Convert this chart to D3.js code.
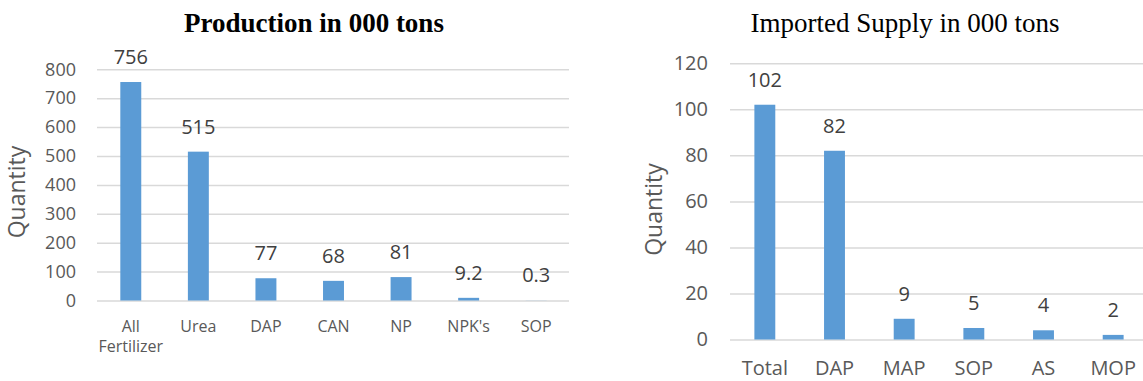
<!DOCTYPE html>
<html>
<head>
<meta charset="utf-8">
<script src="https://cdn.jsdelivr.net/npm/d3@7"></script>
<style>
  html, body { margin: 0; padding: 0; background: #fff; }
  svg { display: block; }
</style>
</head>
<body>
<svg id="chart" width="1143" height="381"></svg>
<script>
// ---- Data ----
const prodCategories = ["All Fertilizer", "Urea", "DAP", "CAN", "NP", "NPK's", "SOP"];
const prodValues = [756, 515, 77, 68, 81, 9.2, 0.3];
const prodTicks = [0, 100, 200, 300, 400, 500, 600, 700, 800];
const prodTitle = "Production in 000 tons";

const impCategories = ["Total", "DAP", "MAP", "SOP", "AS", "MOP"];
const impValues = [102, 82, 9, 5, 4, 2];
const impTicks = [0, 20, 40, 60, 80, 100, 120];
const impTitle = "Imported Supply in 000 tons";

const yAxisTitle = "Quantity";

// ---- Drawing ----
const svg = d3.select("#chart");
const BAR = "#5b9bd5";
const GRID = "#d9d9d9";
const SANS = "'Open Sans', 'Noto Sans', sans-serif";
const SERIF = "'Liberation Serif', 'DejaVu Serif', serif";

function wrap(textSel, width, lineHeight) {
  textSel.each(function () {
    const t = d3.select(this);
    const words = t.text().split(/\s+/);
    const y = t.attr("y"), dy = parseFloat(t.attr("dy")) || 0;
    t.text(null);
    let line = [], lineNo = 0;
    let tspan = t.append("tspan").attr("x", 0).attr("y", y).attr("dy", dy + "em");
    words.forEach(w => {
      line.push(w);
      tspan.text(line.join(" "));
      if (tspan.node().getComputedTextLength() > width && line.length > 1) {
        line.pop();
        tspan.text(line.join(" "));
        line = [w];
        lineNo++;
        tspan = t.append("tspan").attr("x", 0).attr("y", y)
          .attr("dy", (dy + lineNo * lineHeight) + "em").text(w);
      }
    });
  });
}

function drawChart(cfg) {
  const g = svg.append("g");
  const x = d3.scaleBand().domain(cfg.categories).range(cfg.xRange)
    .paddingInner(cfg.pad).paddingOuter(cfg.pad / 2);
  const y = d3.scaleLinear().domain([0, d3.max(cfg.ticks)]).range(cfg.yRange);

  // gridlines + tick labels
  const yAxis = d3.axisLeft(y).tickValues(cfg.ticks)
    .tickSize(-(cfg.gridEnd - cfg.xRange[0])).tickPadding(cfg.tickPad);
  const ya = g.append("g").attr("transform", `translate(${cfg.xRange[0]},0)`).call(yAxis);
  ya.select(".domain").remove();
  ya.selectAll(".tick line").attr("stroke", GRID).attr("stroke-width", 1.5);
  ya.selectAll(".tick text").attr("fill", "#595959")
    .style("font-family", SANS).style("font-size", cfg.tickFont + "px");

  // bars
  g.append("g").selectAll("rect").data(cfg.values).join("rect")
    .attr("x", (d, i) => x(cfg.categories[i]))
    .attr("width", x.bandwidth())
    .attr("y", d => y(d))
    .attr("height", d => y(0) - y(d))
    .attr("fill", BAR);

  // data labels
  g.append("g").selectAll("text").data(cfg.values).join("text")
    .attr("x", (d, i) => x(cfg.categories[i]) + x.bandwidth() / 2)
    .attr("y", d => y(d) - 18)
    .attr("text-anchor", "middle")
    .attr("fill", "#404040")
    .style("font-family", SANS).style("font-size", cfg.labelFont + "px")
    .text(d => String(d));

  // category axis
  const xAxis = d3.axisBottom(x).tickSize(0).tickPadding(cfg.catPad);
  const xa = g.append("g").attr("transform", `translate(0,${y(0)})`).call(xAxis);
  xa.select(".domain").remove();
  xa.selectAll(".tick text").attr("fill", "#595959")
    .style("font-family", SANS).style("font-size", cfg.catFont + "px")
    .call(wrap, x.step() * 0.95, 1.25);

  // y axis title
  g.append("text")
    .attr("transform", `translate(${cfg.yTitleX},${cfg.yTitleY}) rotate(-90)`)
    .attr("text-anchor", "middle")
    .attr("fill", "#595959")
    .style("font-family", SANS).style("font-size", cfg.yTitleFont + "px")
    .text(yAxisTitle);

  // chart title
  g.append("text")
    .attr("x", cfg.titleX).attr("y", cfg.titleY)
    .attr("text-anchor", "middle")
    .attr("fill", "#000")
    .style("font-family", SERIF).style("font-size", "27px")
    .style("font-weight", cfg.titleWeight)
    .text(cfg.title);
}

drawChart({
  categories: prodCategories, values: prodValues, ticks: prodTicks, title: prodTitle,
  xRange: [97, 570], gridEnd: 569, yRange: [300.5, 69.3], pad: 0.69,
  tickPad: 21, tickFont: 18, labelFont: 20, catFont: 16, catPad: 20,
  yTitleX: 25, yTitleY: 192, yTitleFont: 23,
  titleX: 314, titleY: 31.5, titleWeight: "bold"
});

drawChart({
  categories: impCategories, values: impValues, ticks: impTicks, title: impTitle,
  xRange: [730, 1148], gridEnd: 1148, yRange: [339.5, 63.3], pad: 0.70,
  tickPad: 22, tickFont: 20, labelFont: 20, catFont: 20, catPad: 21.5,
  yTitleX: 662, yTitleY: 209.5, yTitleFont: 23,
  titleX: 905, titleY: 32, titleWeight: "normal"
});
</script>
</body>
</html>
